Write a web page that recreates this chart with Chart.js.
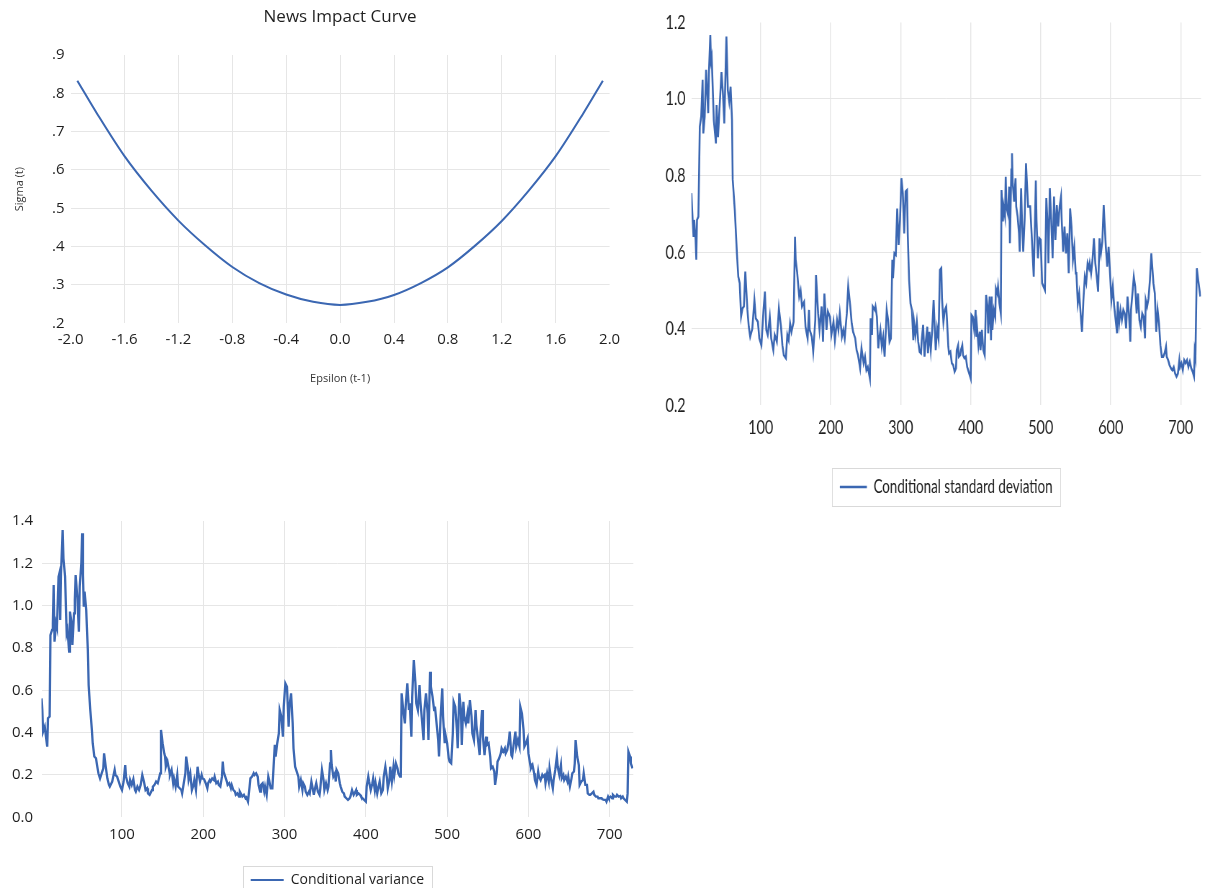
<!DOCTYPE html>
<html>
<head>
<meta charset="utf-8">
<title>GARCH output</title>
<script src="https://cdn.jsdelivr.net/npm/chart.js@4.4.1/dist/chart.umd.min.js"></script>
<style>
  html, body { margin: 0; padding: 0; background: #fff; width: 1208px; height: 888px; overflow: hidden; }
  canvas { position: absolute; }
  #nic { left: 0; top: 0; }
  #sd { left: 652px; top: 0; transform: scaleX(0.72); transform-origin: 0 0; }
  #cv { left: 0; top: 500px; }
</style>
</head>
<body>
<canvas id="nic" width="640" height="390"></canvas>
<canvas id="sd" width="772" height="520"></canvas>
<canvas id="cv" width="640" height="397"></canvas>
<script>
/* --- DATA --- */

// news impact curve
const nicEps = [-1.95, -1.8, -1.6, -1.4, -1.2, -1.0, -0.8, -0.6, -0.4, -0.2, 0,
                0.2, 0.4, 0.6, 0.8, 1.0, 1.2, 1.4, 1.6, 1.8, 1.95];
const nicSigma = [0.833, 0.745, 0.636, 0.546, 0.468, 0.403, 0.347, 0.305, 0.275, 0.256, 0.248,
                  0.256, 0.274, 0.305, 0.346, 0.402, 0.467, 0.546, 0.636, 0.745, 0.833];
const nicTicksX = [-2.0, -1.6, -1.2, -0.8, -0.4, 0, 0.4, 0.8, 1.2, 1.6, 2.0];
const nicTicksY = [0.2, 0.3, 0.4, 0.5, 0.6, 0.7, 0.8, 0.9];

// conditional standard deviation
const sdObs = [
  1,2,4,5,7,8,9,11,13,15,17,18,20,22,25,26,28,29,30,33,
  36,37,39,41,44,46,48,51,53,55,57,59,60,63,66,68,70,72,74,76,
  78,81,83,85,88,91,93,96,98,101,104,106,108,110,113,115,118,120,123,126,
  129,131,133,136,138,140,142,144,147,149,150,152,155,157,159,162,164,167,169,170,
  173,175,178,179,182,184,187,189,191,194,196,199,201,204,206,209,211,213,216,218,
  220,223,225,228,230,232,235,237,239,242,244,247,249,
  251,253,256,257,259,260,263,264,266,268,269,271,273,275,277,279,280,282,284,286,
  288,289,291,293,295,297,299,301,303,305,307,309,310,312,314,316,318,319,321,323,
  325,327,329,330,332,334,336,338,339,341,343,345,347,349,350,352,354,356,358,359,
  361,363,365,366,368,369,371,373,375,377,379,380,382,383,385,386,388,389,391,393,
  395,397,400,401,403,405,407,408,409,411,413,414,416,418,420,422,424,425,427,429,
  430,431,433,435,436,438,439,441,443,444,446,447,449,450,451,453,455,456,458,459,
  460,462,464,465,467,469,470,472,473,475,477,479,480,482,
  485,487,490,491,493,494,496,498,500,502,504,506,508,510,511,513,515,517,519,521,
  523,525,527,529,530,532,534,536,538,540,542,544,546,548,550,551,553,555,557,559,
  561,563,565,567,569,570,572,574,576,578,580,582,584,586,588,590,591,593,595,597,
  599,601,603,605,607,609,610,612,614,616,618,620,622,624,626,628,629,631,633,635,
  637,639,641,643,645,647,649,650,652,654,656,658,660,661,663,665,667,669,671,673,
  675,677,679,680,682,684,686,688,690,692,694,696,698,699,701,703,705,707,709,711,
  713,715,717,719,720,721,723,725,728
];
const sdVal = [
  .754,.714,.64,.684,.632,.58,.684,.693,.928,.954,1.05,.91,.954,1.076,.963,1.067,1.167,1.10,1.11,.945,
  .884,.984,.90,.97,1.07,1.015,.936,1.163,1.023,.993,1.032,.945,.79,.71,.597,.536,.519,.432,.453,.458,
  .549,.449,.405,.379,.40,.475,.427,.418,.375,.357,.449,.497,.397,.384,.431,.375,.344,.384,.366,.453,
  .405,.357,.331,.323,.384,.37,.414,.392,.418,.64,.58,.549,.484,.50,.458,.47,.405,.375,.449,.397,
  .379,.34,.423,.54,.44,.397,.458,.366,.492,.397,.445,.431,.384,.418,.37,.423,.397,.44,.379,.397,
  .375,.44,.51,.458,.414,.392,.375,.344,.331,.297,.349,.31,.327,
  .292,.30,.27,.427,.384,.458,.449,.458,.431,.349,.37,.397,.353,.379,.327,.405,.449,.423,.366,.375,
  .58,.532,.597,.593,.714,.619,.684,.793,.754,.649,.758,.762,.649,.527,.466,.449,.37,.418,.384,.418,
  .366,.34,.336,.37,.41,.327,.37,.405,.336,.392,.344,.397,.475,.384,.344,.401,.375,.553,.558,.479,
  .418,.449,.458,.427,.353,.336,.34,.31,.305,.288,.297,.344,.357,.327,.331,.344,.357,.331,.323,.327,
  .30,.288,.27,.436,.431,.397,.449,.379,.405,.357,.392,.344,.397,.344,.331,.488,.458,.388,.484,.37,
  .484,.397,.449,.431,.505,.492,.51,.466,.44,.762,.68,.719,.693,.797,.719,.701,.771,.623,.815,.858,
  .78,.732,.793,.719,.693,.649,.601,.767,.701,.601,.684,.832,.793,.719,
  .719,.649,.536,.614,.787,.684,.584,.636,.632,.519,.51,.501,.741,.667,.571,.767,.684,.584,.745,.632,
  .723,.667,.719,.745,.684,.601,.667,.597,.649,.545,.714,.667,.58,.614,.545,.545,.466,.492,.44,.392,
  .475,.536,.519,.571,.558,.571,.545,.58,.636,.571,.536,.497,.636,.597,.627,.723,.684,.614,.562,.614,
  .545,.475,.51,.458,.423,.388,.471,.414,.449,.423,.449,.44,.401,.484,.44,.366,.449,.492,.536,.51,
  .44,.492,.423,.405,.44,.431,.375,.475,.458,.479,.527,.597,.545,.519,.492,.392,.449,.414,.357,.327,
  .327,.336,.353,.327,.318,.305,.297,.292,.30,.283,.275,.283,.318,.30,.31,.292,.318,.31,.318,.30,
  .314,.297,.288,.275,.34,.327,.558,.527,.484
];
const sdTicksY = [0.2, 0.4, 0.6, 0.8, 1.0, 1.2];

// conditional variance
const varObs = [
  1,2,3,5,7,8,9,11,12,14,15,16,17,19,20,22,23,24,25,27,
  28,30,32,33,35,36,38,39,41,42,43,45,47,48,50,51,52,53,54,56,
  58,59,61,63,64,66,68,70,71,73,75,77,78,80,82,84,85,87,88,91,
  92,94,96,98,100,102,104,105,107,109,110,112,114,116,117,119,121,123,124,125,
  127,129,131,132,134,137,138,140,142,144,146,147,148,150,152,153,154,156,158,159,
  161,163,164,166,168,169,171,173,174,176,178,179,181,182,184,186,188,189,191,193,
  194,196,198,199,201,203,205,206,208,209,211,213,214,216,218,219,221,223,224,225,
  227,229,230,232,234,235,237,239,240,242,244,245,247,248,250,252,253,255,257,258,
  260,262,263,265,267,268,270,271,273,275,276,278,280,281,283,285,288,289,291,293,
  294,296,298,299,301,303,304,305,306,308,310,311,313,315,317,318,320,322,323,325,
  326,328,330,331,333,335,336,338,339,341,343,344,346,348,349,351,353,354,356,357,
  358,360,362,363,364,366,368,369,371,373,374,376,378,380,381,383,385,386,388,389,
  391,393,394,396,398,400,401,403,404,406,408,409,411,412,414,416,417,419,421,422,
  424,426,427,429,430,432,434,435,437,439,440,442,443,444,446,448,449,451,453,454,
  456,457,459,461,462,464,466,467,469,471,472,474,476,477,479,480,482,484,485,487,
  489,490,492,494,495,497,498,500,502,503,505,507,508,510,512,513,515,517,518,520,
  521,523,525,526,528,530,531,533,535,536,538,540,541,543,544,546,548,549,551,553,
  554,556,558,559,561,562,564,566,567,569,571,572,574,576,577,579,580,582,584,585,
  587,589,590,592,594,595,597,599,600,602,603,605,607,608,610,612,613,615,617,618,
  620,621,623,625,626,628,630,631,633,635,636,638,640,641,643,644,646,648,649,651,
  653,654,656,657,658,660,662,663,665,667,668,670,672,673,675,676,678,680,681,683,
  685,686,688,690,691,693,695,696,698,699,701,703,704,706,708,709,711,713,714,716,
  717,719,721,722,723,725,726,728
];
const varVal = [
  .562,.507,.405,.428,.365,.334,.468,.476,.861,.885,.917,1.098,.83,.917,.90,1.137,1.153,.932,1.153,1.357,
  1.224,1.137,.869,.885,.783,.972,.917,.814,.964,1.027,1.145,1.043,.877,1.09,1.20,1.342,1.145,.995,1.066,.98,
  .79,.625,.507,.413,.35,.287,.279,.231,.208,.184,.208,.231,.302,.239,.184,.153,.145,.161,.169,.224,
  .20,.192,.169,.145,.129,.169,.247,.192,.161,.145,.176,.153,.18,.129,.121,.145,.129,.153,.176,.20,
  .169,.129,.137,.113,.106,.129,.145,.153,.169,.161,.192,.208,.413,.35,.302,.287,.239,.263,.224,.20,
  .224,.161,.184,.145,.20,.145,.137,.129,.113,.161,.208,.287,.231,.176,.208,.129,.153,.176,.129,.239,
  .208,.169,.20,.184,.18,.161,.137,.161,.176,.169,.184,.176,.192,.161,.169,.153,.145,.192,.263,.216,
  .192,.169,.153,.161,.137,.153,.129,.121,.106,.113,.098,.121,.106,.098,.106,.09,.094,.074,.145,.184,
  .192,.208,.20,.208,.192,.153,.121,.153,.161,.121,.145,.106,.192,.176,.137,.137,.342,.287,.35,.397,
  .507,.476,.381,.523,.633,.617,.523,.428,.523,.586,.444,.326,.239,.216,.192,.145,.176,.129,.161,.145,
  .121,.106,.121,.113,.169,.129,.106,.145,.161,.121,.106,.137,.224,.176,.129,.161,.129,.145,.255,.318,
  .247,.192,.208,.169,.224,.208,.161,.145,.121,.113,.098,.09,.082,.09,.098,.129,.106,.113,.129,.106,
  .113,.106,.098,.09,.082,.074,.145,.192,.169,.129,.161,.184,.129,.161,.113,.153,.169,.113,.129,.192,
  .239,.184,.137,.176,.239,.169,.239,.20,.255,.231,.208,.192,.192,.586,.507,.444,.523,.633,.507,.539,
  .381,.57,.743,.633,.539,.507,.625,.554,.46,.365,.507,.586,.491,.365,.688,.617,.57,.507,.523,.444,
  .365,.287,.476,.609,.476,.35,.389,.35,.279,.263,.255,.397,.546,.523,.413,.326,.586,.507,.342,.546,
  .476,.444,.491,.444,.554,.476,.397,.365,.507,.436,.365,.294,.397,.507,.381,.294,.381,.342,.35,.287,
  .231,.239,.216,.153,.208,.263,.279,.302,.326,.31,.326,.302,.318,.365,.405,.294,.287,.35,.405,.334,
  .365,.334,.523,.491,.413,.334,.35,.373,.302,.255,.231,.247,.208,.176,.153,.216,.192,.176,.20,.192,
  .20,.161,.208,.169,.231,.176,.137,.176,.224,.287,.239,.20,.247,.184,.20,.176,.192,.169,.192,.145,
  .184,.208,.216,.255,.365,.287,.247,.153,.169,.176,.208,.153,.153,.113,.106,.106,.113,.121,.106,.098,
  .098,.09,.09,.09,.085,.082,.082,.074,.098,.09,.098,.09,.106,.098,.098,.106,.098,.101,.09,.098,
  .09,.082,.074,.113,.31,.287,.255,.231
];
const varTicksY = [0, 0.2, 0.4, 0.6, 0.8, 1.0, 1.2, 1.4];

// observation ticks shared by both series charts
const obsTicks = [100, 200, 300, 400, 500, 600, 700];

/* --- STYLE --- */
const BLUE = '#3b67b2';
const GRID = '#e6e6e6';
const INK = '#1f1f1f';
Chart.defaults.font.family = "'Open Sans', sans-serif";
Chart.defaults.color = INK;

const pts = (xs, ys) => xs.map((x, i) => ({ x, y: ys[i] }));
const useTicks = list => scale => { scale.ticks = list.map(v => ({ value: v })); };
// no grid line on the plot edges
const innerGrid = n => c => (c.index === 0 || c.index === n - 1) ? 'rgba(0,0,0,0)' : GRID;

// thin grey frame around the single legend item
function legendFrame(mx, my) {
    return {
        id: 'legendFrame',
        afterDraw(chart) {
            const hb = chart.legend && chart.legend.legendHitBoxes[0];
            if (!hb) return;
            const ctx = chart.ctx;
            const cy = hb.top + hb.height / 2;
            ctx.save();
            ctx.strokeStyle = '#d9d9d9';
            ctx.lineWidth = 1;
            ctx.strokeRect(Math.round(hb.left - mx) + 0.5, Math.round(cy - my) + 0.5,
                           Math.round(hb.width + 2 * mx), Math.round(2 * my));
            ctx.restore();
        }
    };
}

const lineLegend = (size, family, boxW, boxH, pad) => ({
    display: true,
    position: 'bottom',
    fullSize: false,
    labels: {
        font: { size, family },
        color: INK,
        boxWidth: boxW,
        boxHeight: boxH,
        padding: pad,
        generateLabels: chart => Chart.defaults.plugins.legend.labels.generateLabels(chart)
            .map(l => Object.assign(l, { fillStyle: BLUE, lineWidth: 0 }))
    }
});

/* --- NEWS IMPACT CURVE --- */
new Chart(document.getElementById('nic'), {
    type: 'line',
    data: {
        datasets: [{
            data: pts(nicEps, nicSigma),
            borderColor: BLUE,
            borderWidth: 2,
            pointRadius: 0,
            cubicInterpolationMode: 'monotone'
        }]
    },
    options: {
        responsive: false, animation: false, devicePixelRatio: 1,
        layout: { padding: { left: 0, right: 30.4, top: 0, bottom: 0 } },
        plugins: {
            legend: { display: false },
            tooltip: { enabled: false },
            title: {
                display: true, text: 'News Impact Curve', fullSize: false,
                color: INK, font: { size: 17, weight: 'normal' },
                padding: { top: 6.8, bottom: 27.8 }
            }
        },
        scales: {
            x: {
                type: 'linear', min: -2, max: 2,
                afterBuildTicks: useTicks(nicTicksX),
                afterFit: s => { s.height = 66.7; },
                ticks: { callback: v => v.toFixed(1), padding: 7.5, font: { size: 15 }, maxRotation: 0, autoSkip: false },
                grid: { color: innerGrid(nicTicksX.length), drawTicks: false },
                border: { display: false },
                title: { display: true, text: 'Epsilon (t-1)', color: '#333', font: { size: 11 }, padding: { top: 0, bottom: 5 } }
            },
            y: {
                min: 0.2, max: 0.9,
                afterBuildTicks: useTicks(nicTicksY),
                afterFit: s => { s.width = 70.6; },
                ticks: { callback: v => v.toFixed(1).replace(/^0/, ''), padding: 6, font: { size: 15 } },
                grid: { color: innerGrid(nicTicksY.length), drawTicks: false },
                border: { display: false },
                title: { display: true, text: 'Sigma (t)', color: '#333', font: { size: 11 }, padding: { top: 13.4, bottom: 0 } }
            }
        }
    }
});

/* --- CONDITIONAL STANDARD DEVIATION (canvas squeezed to 0.72 in css) --- */
new Chart(document.getElementById('sd'), {
    type: 'line',
    data: {
        datasets: [{
            label: 'Conditional standard deviation',
            data: pts(sdObs, sdVal),
            borderColor: BLUE,
            backgroundColor: BLUE,
            borderWidth: 2.6,
            pointRadius: 0,
            tension: 0
        }]
    },
    options: {
        responsive: false, animation: false, devicePixelRatio: 1,
        layout: { padding: { left: 0, right: 9.5, top: 22.4, bottom: 13.75 } },
        plugins: {
            tooltip: { enabled: false },
            legend: lineLegend(18.5, 'Lato', 37.5, 2.5, 22.45)
        },
        scales: {
            x: {
                type: 'linear', min: 1, max: 729,
                afterBuildTicks: useTicks(obsTicks),
                afterFit: s => { s.height = 50; },
                ticks: { padding: 10, font: { size: 20, family: 'Lato' }, maxRotation: 0, autoSkip: false },
                grid: { color: GRID, lineWidth: 1.4, drawTicks: false },
                border: { display: false }
            },
            y: {
                min: 0.2, max: 1.2,
                afterBuildTicks: useTicks(sdTicksY),
                afterFit: s => { s.width = 54.7; },
                ticks: { callback: v => v.toFixed(1), padding: 8, font: { size: 20, family: 'Lato' } },
                grid: { color: innerGrid(sdTicksY.length), drawTicks: false },
                border: { display: false }
            }
        }
    },
    plugins: [legendFrame(11, 19)]
});

/* --- CONDITIONAL VARIANCE --- */
new Chart(document.getElementById('cv'), {
    type: 'line',
    data: {
        datasets: [{
            label: 'Conditional variance',
            data: pts(varObs, varVal),
            borderColor: BLUE,
            backgroundColor: BLUE,
            borderWidth: 2.3,
            pointRadius: 0,
            tension: 0
        }]
    },
    options: {
        responsive: false, animation: false, devicePixelRatio: 1,
        layout: { padding: { left: 0, right: 6.7, top: 21, bottom: 0 } },
        plugins: {
            tooltip: { enabled: false },
            legend: lineLegend(14, "'Open Sans', sans-serif", 33, 2, 23.7)
        },
        scales: {
            x: {
                type: 'linear', min: 1, max: 729,
                afterBuildTicks: useTicks(obsTicks),
                afterFit: s => { s.height = 32; },
                ticks: { padding: 8.5, font: { size: 15 }, maxRotation: 0, autoSkip: false },
                grid: { color: GRID, drawTicks: false },
                border: { display: false }
            },
            y: {
                min: 0, max: 1.4,
                afterBuildTicks: useTicks(varTicksY),
                afterFit: s => { s.width = 41.5; },
                ticks: { callback: v => v.toFixed(1), padding: 8.5, font: { size: 15 } },
                grid: { color: innerGrid(varTicksY.length), drawTicks: false },
                border: { display: false }
            }
        }
    },
    plugins: [legendFrame(8, 14)]
});
</script>
</body>
</html>
